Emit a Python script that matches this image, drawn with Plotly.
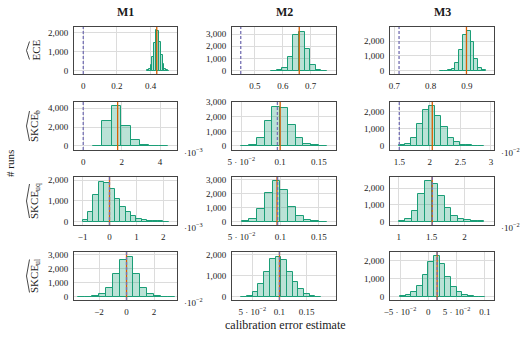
import plotly.graph_objects as go

# ---------------- data (counts per histogram bin) ----------------
# row 1: ECE
ece_m1_centers = [0.385, 0.395, 0.405, 0.415, 0.425, 0.435, 0.445, 0.455, 0.465, 0.475, 0.485, 0.495, 0.505]
ece_m1_counts = [20, 80, 280, 700, 1450, 2100, 2050, 1500, 800, 330, 110, 30, 10]
ece_m1_width = 0.01
ece_m2_centers = [0.568, 0.588, 0.608, 0.628, 0.648, 0.668, 0.688, 0.708, 0.728, 0.748]
ece_m2_counts = [10, 30, 250, 1150, 2950, 3200, 1750, 440, 60, 10]
ece_m2_width = 0.02
ece_m3_centers = [0.8318, 0.8423, 0.8528, 0.8633, 0.8738, 0.8843, 0.8948, 0.9053, 0.9158, 0.9263, 0.9368, 0.9473]
ece_m3_counts = [5, 10, 40, 115, 500, 1390, 2400, 2670, 1950, 770, 160, 40]
ece_m3_width = 0.0105

# row 2: SKCE_b  (M1 in 1e-3, M3 in 1e-2)
skceb_m1_centers = [0.745, 1.235, 1.725, 2.215, 2.705, 3.195, 3.685, 4.175]
skceb_m1_counts = [40, 2650, 4250, 2100, 620, 130, 30, 15]
skceb_m1_width = 0.49
skceb_m2_centers = [0.055, 0.065, 0.075, 0.085, 0.095, 0.105, 0.115, 0.125, 0.135, 0.145, 0.155]
skceb_m2_counts = [20, 100, 570, 1720, 2700, 2590, 1440, 530, 120, 40, 15]
skceb_m2_width = 0.01
skceb_m3_centers = [1.54, 1.64, 1.74, 1.84, 1.94, 2.04, 2.14, 2.24, 2.34, 2.44, 2.54, 2.64, 2.74, 2.84]
skceb_m3_counts = [30, 100, 450, 1280, 2100, 2330, 1710, 1070, 485, 215, 80, 30, 12, 5]
skceb_m3_width = 0.1

# row 3: SKCE_uq  (M1 in 1e-3, M3 in 1e-2)
skceuq_m1_centers = [-0.9, -0.7, -0.5, -0.3, -0.1, 0.1, 0.3, 0.5, 0.7, 0.9, 1.1, 1.3, 1.5, 1.7, 1.9, 2.1]
skceuq_m1_counts = [100, 450, 1280, 1920, 1875, 1570, 1075, 690, 480, 275, 140, 90, 50, 30, 15, 8]
skceuq_m1_width = 0.2
skceuq_m2_centers = [0.055, 0.065, 0.075, 0.085, 0.095, 0.105, 0.115, 0.125, 0.135, 0.145, 0.155]
skceuq_m2_counts = [20, 170, 890, 2090, 2930, 2280, 1080, 410, 120, 40, 10]
skceuq_m2_width = 0.01
skceuq_m3_centers = [1.05, 1.15, 1.25, 1.35, 1.45, 1.55, 1.65, 1.75, 1.85, 1.95, 2.05, 2.15, 2.25]
skceuq_m3_counts = [50, 150, 640, 1660, 2400, 2260, 1540, 840, 360, 150, 80, 40, 15]
skceuq_m3_width = 0.1

# row 4: SKCE_ul  (M1 in 1e-2)
skceul_m1_centers = [-3.25, -2.75, -2.25, -1.75, -1.25, -0.75, -0.25, 0.25, 0.75, 1.25, 1.75, 2.25, 2.75, 3.25]
skceul_m1_counts = [5, 10, 30, 170, 590, 1580, 2580, 2820, 1580, 590, 170, 30, 10, 5]
skceul_m1_width = 0.5
skceul_m2_centers = [0.035, 0.0455, 0.056, 0.0665, 0.077, 0.0875, 0.098, 0.1085, 0.119, 0.1295, 0.14, 0.1505, 0.161, 0.1715]
skceul_m2_counts = [10, 50, 205, 585, 1150, 1780, 1890, 1730, 1150, 690, 375, 120, 30, 10]
skceul_m2_width = 0.0105
skceul_m3_centers = [-0.045, -0.035, -0.025, -0.015, -0.005, 0.005, 0.015, 0.025, 0.035, 0.045, 0.055, 0.065, 0.075, 0.085, 0.095]
skceul_m3_counts = [30, 90, 245, 595, 1205, 1910, 2220, 1800, 1110, 555, 245, 100, 30, 10, 5]
skceul_m3_width = 0.01

# true values (dashed) and mean estimates (solid), same units as the histograms
true_values = [0.0, 0.449, 0.713, 0.0, 0.0965, 1.5, 0.0, 0.0965, 1.51, 0.0, 0.1, 0.0155]
mean_values = [0.436, 0.659, 0.899, 1.79, 0.1, 2.04, 0.0, 0.0957, 1.51, 0.0, 0.1, 0.0155]

# tick values / labels
x_ticks = [
    ([0, 0.2, 0.4], ["0", "0.2", "0.4"]),
    ([0.5, 0.6, 0.7], ["0.5", "0.6", "0.7"]),
    ([0.7, 0.8, 0.9], ["0.7", "0.8", "0.9"]),
    ([0, 2, 4], ["0", "2", "4"]),
    ([0.05, 0.1, 0.15], ["5 · 10<sup>−2</sup>", "0.1", "0.15"]),
    ([1.5, 2, 2.5, 3], ["1.5", "2", "2.5", "3"]),
    ([-1, 0, 1, 2], ["−1", "0", "1", "2"]),
    ([0.05, 0.1, 0.15], ["5 · 10<sup>−2</sup>", "0.1", "0.15"]),
    ([1, 1.5, 2], ["1", "1.5", "2"]),
    ([-2, 0, 2], ["−2", "0", "2"]),
    ([0.05, 0.1, 0.15], ["5 · 10<sup>−2</sup>", "0.1", "0.15"]),
    ([-0.05, 0, 0.05, 0.1], ["−5 · 10<sup>−2</sup>", "0", "5 · 10<sup>−2</sup>", "0.1"]),
]
y_ticks = [
    [0, 1000, 2000], [0, 1000, 2000, 3000], [0, 1000, 2000],
    [0, 2000, 4000], [0, 1000, 2000, 3000], [0, 1000, 2000],
    [0, 1000, 2000], [0, 1000, 2000, 3000], [0, 1000, 2000],
    [0, 1000, 2000, 3000], [0, 1000, 2000], [0, 1000, 2000],
]
x_scale_labels = [None, None, None, "−3", None, "−2", "−3", None, "−2", "−2", None, None]
col_titles = ["M1", "M2", "M3"]
row_labels = ["ECE", "SKCE<sub>b</sub>", "SKCE<sub>uq</sub>", "SKCE<sub>ul</sub>"]

hists = [
    (ece_m1_centers, ece_m1_counts, ece_m1_width),
    (ece_m2_centers, ece_m2_counts, ece_m2_width),
    (ece_m3_centers, ece_m3_counts, ece_m3_width),
    (skceb_m1_centers, skceb_m1_counts, skceb_m1_width),
    (skceb_m2_centers, skceb_m2_counts, skceb_m2_width),
    (skceb_m3_centers, skceb_m3_counts, skceb_m3_width),
    (skceuq_m1_centers, skceuq_m1_counts, skceuq_m1_width),
    (skceuq_m2_centers, skceuq_m2_counts, skceuq_m2_width),
    (skceuq_m3_centers, skceuq_m3_counts, skceuq_m3_width),
    (skceul_m1_centers, skceul_m1_counts, skceul_m1_width),
    (skceul_m2_centers, skceul_m2_counts, skceul_m2_width),
    (skceul_m3_centers, skceul_m3_counts, skceul_m3_width),
]

# ---------------- layout geometry (pixels) ----------------
W, H = 529, 337
cols_px = [(74, 177), (232, 336), (390, 494)]
rows_px = [(27, 74), (102, 150), (177, 225), (252, 300)]
x_ranges = [
    [-0.055, 0.556], [0.4176, 0.791], [0.688, 0.975],
    [-0.48, 4.88], [0.038, 0.172], [1.348, 3.05],
    [-1.32, 2.51], [0.0375, 0.172], [0.867, 2.45],
    [-3.82, 3.67], [0.0127, 0.204], [-0.0678, 0.116],
]
y_ranges = [
    [-170, 2280], [-270, 3580], [-222, 2943],
    [-432, 4650], [-275, 3020], [-233, 2545],
    [-160, 2150], [-237, 3215], [-200, 2660],
    [-232, 3170], [-156, 2120], [-183, 2467],
]

GREEN = "#1b9e77"
FILL = "rgba(27,158,119,0.3)"
ORANGE = "#d95f02"
PURPLE = "#7570b3"
FONT = "Liberation Serif"
TXT = "#1a1a1a"

fig = go.Figure()
layout = dict(
    width=W, height=H, margin=dict(l=0, r=0, t=0, b=0, pad=0, autoexpand=False),
    paper_bgcolor="white", plot_bgcolor="white", showlegend=False,
    bargap=0, font=dict(family=FONT, size=9, color=TXT),
    separators=".,", shapes=[], annotations=[],
)

for i in range(12):
    r, c = divmod(i, 3)
    n = "" if i == 0 else str(i + 1)
    centers, counts, bw = hists[i]
    fig.add_trace(go.Bar(
        x=centers, y=counts, width=[bw] * len(centers),
        marker=dict(color=FILL, line=dict(color=GREEN, width=1)),
        xaxis="x" + n, yaxis="y" + n,
    ))
    x0, x1 = cols_px[c]
    y0, y1 = rows_px[r]
    common = dict(showline=True, mirror=True, linecolor="#444", linewidth=1,
                  showgrid=True, gridcolor="#dcdcdc", gridwidth=1, zeroline=False,
                  ticks="", tickfont=dict(family=FONT, size=9, color=TXT),
                  fixedrange=True, automargin=False)
    layout["xaxis" + n] = dict(
        domain=[x0 / W, x1 / W], anchor="y" + n, range=x_ranges[i],
        tickmode="array", tickvals=x_ticks[i][0], ticktext=x_ticks[i][1],
        ticklabelstandoff=3, **common)
    layout["yaxis" + n] = dict(
        domain=[1 - y1 / H, 1 - y0 / H], anchor="x" + n, range=y_ranges[i],
        tickmode="array", tickvals=y_ticks[i], tickformat=",d",
        ticklabelstandoff=3, **common)
    # true value (dashed) and mean (solid)
    layout["shapes"].append(dict(type="line", xref="x" + n, yref="y" + n + " domain",
                                 x0=mean_values[i], x1=mean_values[i], y0=0, y1=1,
                                 line=dict(color=ORANGE, width=1.3)))
    layout["shapes"].append(dict(type="line", xref="x" + n, yref="y" + n + " domain",
                                 x0=true_values[i], x1=true_values[i], y0=0, y1=1,
                                 line=dict(color=PURPLE, width=1.3, dash="3px,2px")))
    if x_scale_labels[i]:
        layout["annotations"].append(dict(
            text="·10<sup>" + x_scale_labels[i] + "</sup>", xref="paper", yref="paper",
            x=(x1 + 5) / W, y=1 - (y1 + 2) / H, xanchor="left", yanchor="middle",
            showarrow=False, font=dict(family=FONT, size=9, color=TXT)))

# column titles
for c, t in enumerate(col_titles):
    x0, x1 = cols_px[c]
    layout["annotations"].append(dict(
        text="<b>" + t + "</b>", xref="paper", yref="paper",
        x=(x0 + x1) / 2 / W, y=1 - 12 / H, xanchor="center", yanchor="middle",
        showarrow=False, font=dict(family=FONT, size=12, color=TXT)))

# row labels with wide hats
label_len = [18, 30, 34, 33]
for r, t in enumerate(row_labels):
    y0, y1 = rows_px[r]
    yc = (y0 + y1) / 2
    layout["annotations"].append(dict(
        text=t, xref="paper", yref="paper", x=35 / W, y=1 - yc / H,
        xanchor="center", yanchor="middle", textangle=-90, showarrow=False,
        font=dict(family=FONT, size=11, color=TXT)))
    L = label_len[r]
    xa = 29.5
    ya, yb = yc - L / 2, yc + L / 2
    layout["shapes"].append(dict(
        type="path", xref="paper", yref="paper",
        path=f"M {xa / W},{1 - ya / H} L {(xa - 3) / W},{1 - yc / H} L {xa / W},{1 - yb / H}",
        line=dict(color=TXT, width=0.8)))

layout["annotations"].append(dict(
    text="# runs", xref="paper", yref="paper", x=10 / W, y=1 - 164 / H,
    xanchor="center", yanchor="middle", textangle=-90, showarrow=False,
    font=dict(family=FONT, size=11, color=TXT)))
layout["annotations"].append(dict(
    text="calibration error estimate", xref="paper", yref="paper", x=285 / W, y=1 - 325 / H,
    xanchor="center", yanchor="middle", showarrow=False,
    font=dict(family=FONT, size=12, color=TXT)))

fig.update_layout(**layout)
fig.write_html("out.html", config={"displayModeBar": False},
               post_script="document.body.style.margin='0px';document.body.style.padding='0px';")
